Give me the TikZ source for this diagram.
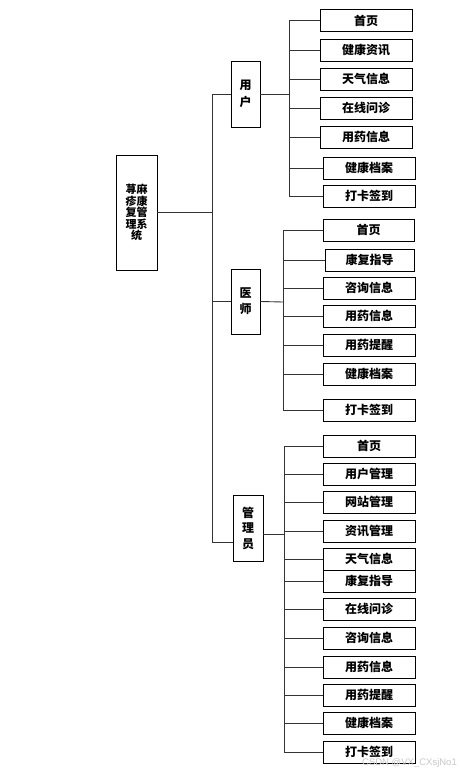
\documentclass[tikz,border=0pt]{standalone}
\usepackage{fontspec}
\newfontfamily\cjk{Noto Sans CJK SC}
\setsansfont{Liberation Sans}
\begin{document}
\begin{tikzpicture}[x=1pt,y=-1pt,
  box/.style={draw=black,line width=0.9pt,inner sep=0pt,align=center,font=\cjk\bfseries\fontsize{12pt}{14pt}\selectfont},
  leaf/.style={box,minimum width=92pt,minimum height=22pt},
  conn/.style={draw=black!80,line width=0.9pt}]
\useasboundingbox (0,0) rectangle (459,775);
% root and second level
\node[box,minimum width=41pt,minimum height=115pt,font=\cjk\bfseries\fontsize{11pt}{11.5pt}\selectfont] (root) at (136.5,212.5) {荨麻\\疹康\\复管\\理系\\统};
\node[box,minimum width=29pt,minimum height=66pt,font=\cjk\bfseries\fontsize{12pt}{17pt}\selectfont] (usr) at (245.5,94) {用\\户};
\node[box,minimum width=29pt,minimum height=65pt,font=\cjk\bfseries\fontsize{12pt}{16pt}\selectfont] (doc) at (245.5,301.5) {医\\师};
\node[box,minimum width=30pt,minimum height=66pt,font=\cjk\bfseries\fontsize{12pt}{15.5pt}\selectfont] (adm) at (248,528) {管\\理\\员};
% user leaves
\node[leaf] (u1) at (366,20.5) {首页};
\node[leaf] (u2) at (366,50) {健康资讯};
\node[leaf] (u3) at (366,79) {天气信息};
\node[leaf] (u4) at (366,108) {在线问诊};
\node[leaf] (u5) at (366,137) {用药信息};
\node[leaf] (u6) at (369,168) {健康档案};
\node[leaf] (u7) at (369,196) {打卡签到};
% doctor leaves
\node[leaf,minimum width=91pt] (d1) at (368.5,230) {首页};
\node[leaf,minimum width=89pt] (d2) at (369.5,260) {康复指导};
\node[leaf] (d3) at (369,288) {咨询信息};
\node[leaf] (d4) at (369,316) {用药信息};
\node[leaf] (d5) at (369,345) {用药提醒};
\node[leaf] (d6) at (369,374) {健康档案};
\node[leaf] (d7) at (369,410) {打卡签到};
% admin leaves
\node[leaf] (a1) at (369,446) {首页};
\node[leaf] (a2) at (369,474) {用户管理};
\node[leaf] (a3) at (369,502) {网站管理};
\node[leaf] (a4) at (369,531) {资讯管理};
\node[leaf] (a5) at (369,559) {天气信息};
\node[leaf] (a6) at (369,581) {康复指导};
\node[leaf] (a7) at (369,609) {在线问诊};
\node[leaf] (a8) at (369,638) {咨询信息};
\node[leaf] (a9) at (369,667) {用药信息};
\node[leaf] (a10) at (369,695) {用药提醒};
\node[leaf] (a11) at (369,723) {健康档案};
\node[leaf] (a12) at (369,752) {打卡签到};
% branch coordinates
\coordinate (tr) at (212,212.5);
\coordinate (ub) at (289,94);
\coordinate (db) at (283,302);
\coordinate (ab) at (284,534);
% trunk
\draw[conn] (root.east) -- (tr);
\draw[conn] (tr |- usr.west) -- (tr |- 0,542);
\draw[conn] (tr |- usr.west) -- (usr.west);
\draw[conn] (tr |- doc.west) -- (doc.west);
\draw[conn] (tr |- 0,542) -- ([yshift=-14pt]adm.west);
% user branch
\draw[conn] (usr.east) -- (ub);
\draw[conn] (ub |- u1.west) -- (ub |- u7.west);
\foreach \n in {u1,u2,u3,u4,u5,u6,u7} \draw[conn] (ub |- \n.west) -- (\n.west);
% doctor branch
\draw[conn] (doc.east) -- (db);
\draw[conn] (db |- d1.west) -- (db |- d7.west);
\foreach \n in {d1,d2,d3,d4,d5,d6,d7} \draw[conn] (db |- \n.west) -- (\n.west);
% admin branch
\draw[conn] ([yshift=-6pt]adm.east) -- (ab);
\draw[conn] (ab |- a1.west) -- (ab |- a12.west);
\foreach \n in {a1,a2,a3,a4,a5,a6,a7,a8,a9,a10,a11,a12} \draw[conn] (ab |- \n.west) -- (\n.west);
% watermark
\node[anchor=east,inner sep=0pt,text=black!22,font=\sffamily\fontsize{9.5pt}{11pt}\selectfont] (wm) at (457,763) {CSDN @VX\_CXsjNo1};
\end{tikzpicture}
\end{document}
